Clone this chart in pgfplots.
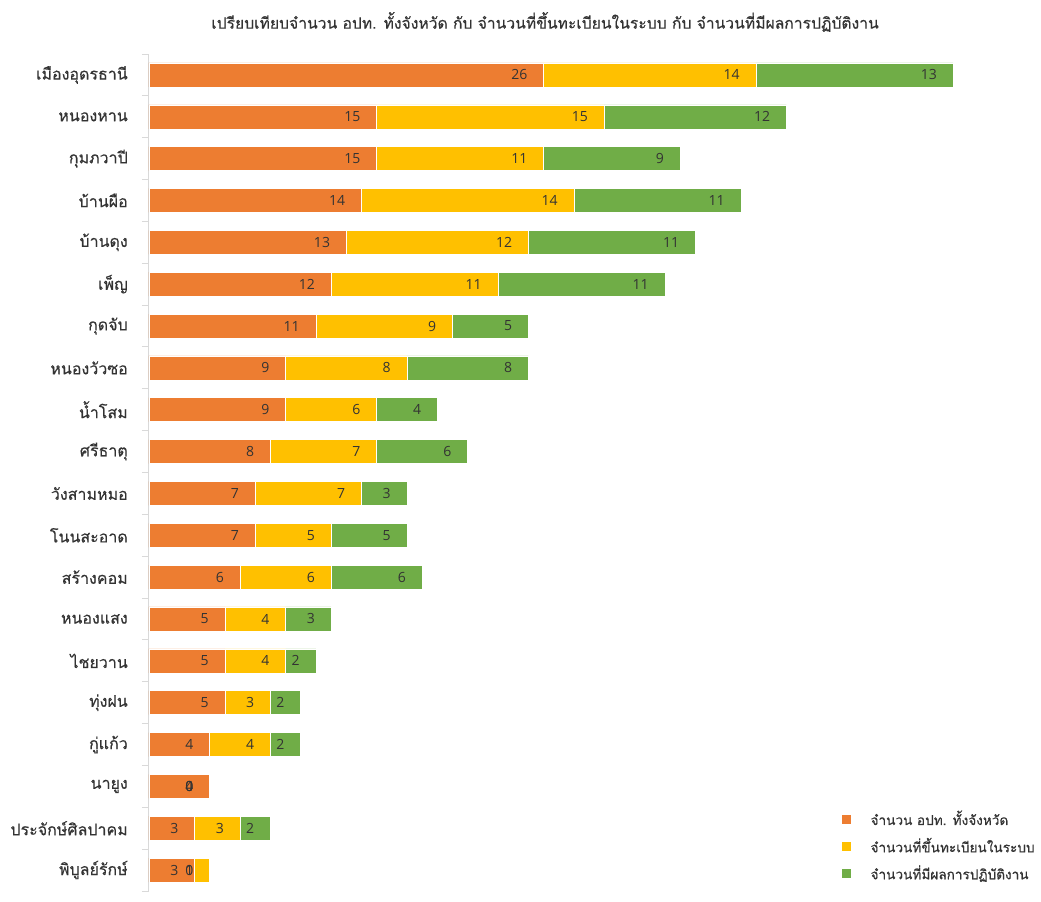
\documentclass[border=0pt]{standalone}
\usepackage{fontspec}
\setmainfont[Script=Thai, FakeBold=0.4]{Loma}
\newfontfamily\numfont{Open Sans}
\usepackage{pgfplots}
\usepackage{pgfplotstable}
\pgfplotsset{compat=1.18}
\definecolor{cOr}{HTML}{ED7D31}
\definecolor{cYe}{HTML}{FFC000}
\definecolor{cGr}{HTML}{70AD47}
\definecolor{txt}{HTML}{333333}
\definecolor{axg}{HTML}{D9D9D9}
\pgfplotstableread{
idx a b c
0 26 14 13
1 15 15 12
2 15 11 9
3 14 14 11
4 13 12 11
5 12 11 11
6 11 9 5
7 9 8 8
8 9 6 4
9 8 7 6
10 7 7 3
11 7 5 5
12 6 6 6
13 5 4 3
14 5 4 2
15 5 3 2
16 4 4 2
17 4 0 0
18 3 3 2
19 3 1 0
}\data
\pgfplotsset{
  base/.style={
    at={(111.75pt,7.5pt)}, anchor=south west,
    scale only axis, width=653.25pt, height=627.75pt,
    xmin=0, xmax=57.4, ymin=-0.5, ymax=19.5, y dir=reverse,
  }
}
\begin{document}
\begin{tikzpicture}
\path[use as bounding box] (0pt,0pt) rectangle (780.75pt,675.75pt);
\begin{axis}[
  base,
  xbar stacked, bar width=18pt,
  axis y line*=left, axis x line=none,
  y axis line style={axg, line width=0.75pt},
  ytick={0,...,19},
  yticklabels={เมืองอุดรธานี,หนองหาน,กุมภวาปี,บ้านผือ,บ้านดุง,เพ็ญ,กุดจับ,หนองวัวซอ,น้ำโสม,ศรีธาตุ,วังสามหมอ,โนนสะอาด,สร้างคอม,หนองแสง,ไชยวาน,ทุ่งฝน,กู่แก้ว,นายูง,ประจักษ์ศิลปาคม,พิบูลย์รักษ์},
  major tick length=0pt,
  minor ytick={-0.5,0.5,...,19.5},
  minor tick length=5.25pt,
  tick align=outside,
  minor tick style={axg, line width=0.75pt},
  yticklabel style={font=\fontsize{12}{14}\selectfont, text=txt, inner sep=0pt, anchor=east, xshift=-15.75pt},
  legend style={at={(0.790,0.1028)}, anchor=north west, draw=none, fill=none, font=\fontsize{10.2}{12}\selectfont, text=txt, row sep=4.2pt, column sep=12pt, cells={anchor=west}},
  legend image code/.code={\fill[#1] (0pt,-3.75pt) rectangle (7.5pt,3.75pt);},
]
\addplot[fill=cOr, draw=white, line width=0.4pt] table[x=a, y=idx] {\data};
\addlegendentry{จำนวน อปท. ทั้งจังหวัด}
\addplot[fill=cYe, draw=white, line width=0.4pt] table[x=b, y=idx] {\data};
\addlegendentry{จำนวนที่ขึ้นทะเบียนในระบบ}
\addplot[fill=cGr, draw=white, line width=0.4pt] table[x=c, y=idx] {\data};
\addlegendentry{จำนวนที่มีผลการปฏิบัติงาน}
\end{axis}
\begin{axis}[
  base, hide axis,
  point meta=explicit,
  nodes near coords={\pgfmathprintnumber[assume math mode=true]{\pgfplotspointmeta}},
  every node near coord/.append style={anchor=east, xshift=-12pt, inner sep=0pt, font=\numfont\fontsize{10.5}{13}\selectfont, text=txt},
]
\addplot[only marks, mark=none] table[x=a, y=idx, meta=a] {\data};
\addplot[only marks, mark=none] table[x expr=\thisrow{a}+\thisrow{b}, y=idx, meta=b] {\data};
\addplot[only marks, mark=none] table[x expr=\thisrow{a}+\thisrow{b}+\thisrow{c}, y=idx, meta=c] {\data};
\end{axis}
\node[text=txt, font=\fontsize{11.75}{13}\selectfont] at (408.75pt,659.25pt) {เปรียบเทียบจำนวน อปท. ทั้งจังหวัด กับ จำนวนที่ขึ้นทะเบียนในระบบ กับ จำนวนที่มีผลการปฏิบัติงาน};
\end{tikzpicture}
\end{document}
